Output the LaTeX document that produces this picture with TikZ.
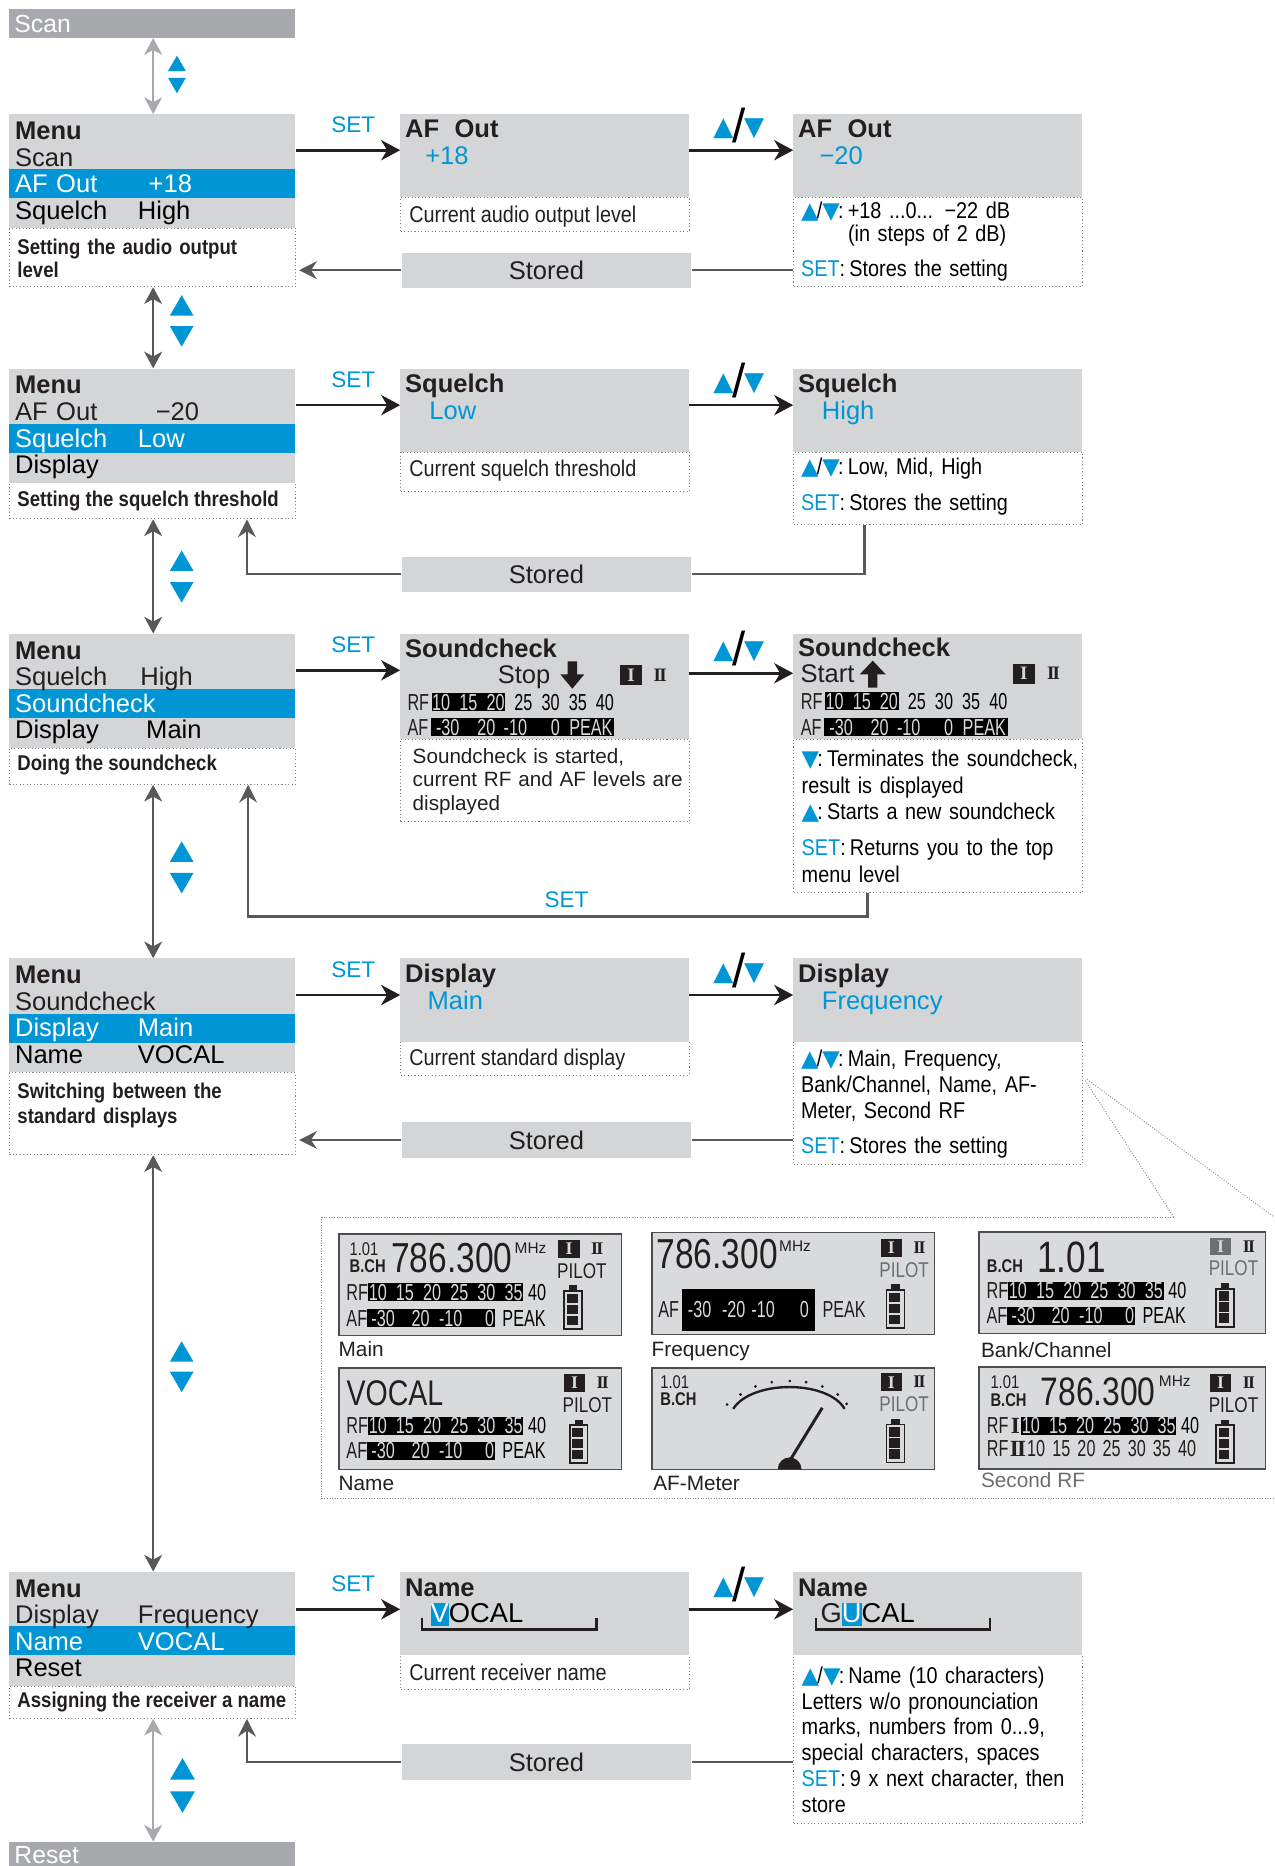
\documentclass[tikz,border=0pt]{standalone}
\usepackage{fontspec}
\usetikzlibrary{arrows.meta,shapes.geometric}
\setmainfont{Liberation Sans}
\newfontfamily\cond[FakeStretch=0.87]{Liberation Sans}
\newfontfamily\lcd[FakeStretch=0.7]{Liberation Sans}
\newfontfamily\lcdb[FakeStretch=0.8]{Liberation Sans}
\newfontfamily\numfont{Liberation Serif}
\newfontfamily\dv{DejaVu Sans}
\definecolor{boxgray}{HTML}{D4D5D7}
\definecolor{scangray}{HTML}{A7A9AC}
\definecolor{selblue}{HTML}{0096D6}
\definecolor{linegray}{HTML}{58595B}
\definecolor{inkblack}{HTML}{231F20}
\definecolor{lcdgray}{HTML}{D9DADC}
\definecolor{lcdline}{HTML}{4D4D4F}
\definecolor{dimgray}{HTML}{6D6E71}
\newcommand\menufont{\fontsize{21.5}{22.4}\selectfont}
\newcommand\headfont{\bfseries\fontsize{21.5}{22.4}\selectfont}
\newcommand\notefont{\cond\fontsize{19.2}{21.7}\selectfont}
\newcommand\descfont{\cond\bfseries\fontsize{18}{21.5}\selectfont}
\newcommand\lcdrow{\lcd\fontsize{19.5}{19.5}\selectfont}
\newcommand\mval[2]{\makebox[103.5pt][l]{#1}#2}
\newcommand\tup{{\dv\color{selblue}▲}\kern-1.5pt}
\newcommand\tdn{{\dv\color{selblue}▼}\kern-1.5pt}
\newcommand\setk{{\color{selblue}SET}}
\newcommand\cln{:\hspace{3.5pt}}
\newcommand\updown{{\dv\fontsize{22}{22}\selectfont\color{selblue}▲}\kern-1pt\raisebox{-6pt}{\fontsize{40}{40}\selectfont/}\kern-1pt{\dv\fontsize{22}{22}\selectfont\color{selblue}▼}}
\newcommand\gap{\hspace{7.7pt}}
\newcommand\lcdbar[1]{{\setlength{\fboxsep}{0.6pt}\colorbox{black}{\color{lcdgray}#1}}}
\newcommand\rfrow{RF\lcdbar{10\gap 15\gap 20\gap 25\gap 30\gap 35}\hspace{4pt}40}
\newcommand\afrow{AF\lcdbar{\hspace{3pt}-30\hspace{14pt}20\hspace{8pt}-10\hspace{19pt}0\hspace{0.5pt}}\hspace{6pt}PEAK}
\begin{document}
\color{inkblack}
\begin{tikzpicture}[x=1pt,y=-1pt,inner sep=0pt]
	\tikzstyle{graybox}=[fill=boxgray, anchor=north west, minimum width=243pt]
	\tikzstyle{menubox}=[fill=boxgray, anchor=north west, minimum width=241pt, minimum height=96pt]
	\tikzstyle{selbar}=[fill=selblue, anchor=north west, minimum width=241pt, minimum height=24.5pt]
	\tikzstyle{topbox}=[fill=scangray, anchor=north west, minimum width=241pt]
	\tikzstyle{notebox}=[draw=linegray!75, dotted, line width=0.9pt, anchor=north west, minimum width=243pt]
	\tikzstyle{storedbox}=[fill=boxgray, anchor=north west, minimum width=244pt, minimum height=29.7pt, font=\menufont]
	\tikzstyle{txt}=[anchor=base west, align=left]
	\tikzstyle{tri}=[regular polygon, regular polygon sides=3, fill=selblue, minimum size=23pt]
	\tikzstyle{setarrow}=[draw=inkblack, line width=2.2pt, -{Stealth[length=16pt,width=17pt,inset=5pt]}]
	\tikzstyle{backline}=[draw=linegray, line width=2pt]
	\tikzstyle{backarrow}=[draw=linegray, line width=2pt, -{Stealth[length=15pt,width=15pt,inset=5pt]}]
	\tikzstyle{menuarrow}=[draw=linegray, line width=2pt, {Stealth[length=14pt,width=15pt,inset=4pt]}-{Stealth[length=14pt,width=15pt,inset=4pt]}]
	\tikzstyle{setlabel}=[anchor=base, yshift=14.6pt, xshift=4.6pt, text=selblue, font=\fontsize{19}{19}\selectfont]
	\tikzstyle{looplabel}=[anchor=base, yshift=7.8pt, text=selblue, font=\fontsize{19}{19}\selectfont]
	\tikzstyle{keylabel}=[anchor=base, yshift=12.4pt, xshift=-2pt]
	\tikzstyle{lcdbox}=[fill=lcdgray, draw=lcdline, line width=1.2pt, anchor=north west, minimum width=238pt, minimum height=85.6pt]
	\tikzstyle{paneldots}=[draw=linegray!70, line width=0.8pt, dash pattern=on 0.8pt off 1.4pt]
	\useasboundingbox (0,0) rectangle (1073,1571.5);

	\node[topbox, minimum height=24.1pt] (scan) at (7.5,7.6) {};
	\node[txt, text=white, font=\fontsize{20.8}{22}\selectfont] (scantxt) at (12,27.5) {Scan};
	\node[topbox, minimum height=21pt] (reset) at (7.5,1551) {};
	\node[txt, text=white, font=\fontsize{20.8}{22}\selectfont] (resettxt) at (12,1569.5) {Reset};

	\node[notebox, minimum width=241pt, minimum height=49pt] (m1d) at (7.5,192) {};
	\node[menubox] (m1) at (7.5,96) {};
	\node[selbar] (m1sel) at (7.5,142.4) {};
	\node[txt, font=\menufont, text width=236pt] (m1txt) at (12.5,117.5) {\textbf{Menu}\\Scan\\\textcolor{white}{\mval{AF Out}{\hspace{9pt}+18}}\\\mval{Squelch}{High}};
	\node[txt, font=\descfont, text width=228pt] (m1dtxt) at (14.5,214) {Setting the audio output\\[-2pt]level};
	\node[notebox, minimum height=28.6pt] (a1d) at (337,165.7) {};
	\node[graybox, minimum height=69.7pt] (a1) at (337,96) {};
	\node[txt, font=\headfont] (a1t) at (341,116) {AF\hspace{13pt}Out};
	\node[txt, font=\menufont, text=selblue] (a1v) at (358,138.5) {+18};
	\node[txt, font=\notefont] (a1n) at (344.5,187.6) {Current audio output level};
	\node[notebox, minimum height=75.3pt] (b1d) at (668,165.7) {};
	\node[graybox, minimum height=69.7pt] (b1) at (668,96) {};
	\node[txt, font=\headfont] (b1t) at (672,116) {AF\hspace{13pt}Out};
	\node[txt, font=\menufont, text=selblue] (b1v) at (690,138.5) {−20};
	\node[txt, font=\notefont, text width=300pt] (b1n) at (674.5,184) {\tup/\tdn\cln+18 ...0... −22 dB\\[-2.1pt]\hspace*{39.5pt}(in steps of 2 dB)\\[7.7pt]\setk\cln Stores the setting};
	\node[storedbox] (st1) at (338,212.5) {Stored};
	\path ([yshift=-30.5pt]m1.north east) edge[setarrow] node[setlabel] {SET} ([yshift=-30.5pt]a1.north west);
	\path ([yshift=-30.5pt]a1.north east) edge[setarrow] node[keylabel] {\updown} ([yshift=-30.5pt]b1.north west);
	\path (st1.east -| b1d.west) edge[backline] (st1.east);
	\path (st1.west) edge[backarrow, shorten >=2.5pt] (st1.west -| m1d.east);
	\path ([xshift=121.5pt]scan.south west) edge[menuarrow, draw=scangray] ([xshift=121.5pt]m1.north west);
	\node[tri, minimum size=17.3pt, anchor=south] (u0) at (149,60) {};
	\node[tri, minimum size=17.3pt, shape border rotate=180, anchor=north] (d0) at (149,65.4) {};

	\node[notebox, minimum width=241pt, minimum height=30.3pt] (m2d) at (7.5,406.2) {};
	\node[menubox] (m2) at (7.5,310.2) {};
	\node[selbar] (m2sel) at (7.5,356.6) {};
	\node[txt, font=\menufont, text width=236pt] (m2txt) at (12.5,331.7) {\textbf{Menu}\\\mval{AF Out}{\hspace{15pt}−20}\\\textcolor{white}{\mval{Squelch}{Low}}\\Display};
	\node[txt, font=\descfont] (m2dtxt) at (14.5,426.7) {Setting the squelch threshold};
	\node[notebox, minimum height=33.2pt] (a2d) at (337,380.4) {};
	\node[graybox, minimum height=70.2pt] (a2) at (337,310.2) {};
	\node[txt, font=\headfont] (a2t) at (341,330.5) {Squelch};
	\node[txt, font=\menufont, text=selblue] (a2v) at (361.5,353) {Low};
	\node[txt, font=\notefont] (a2n) at (344.5,401.5) {Current squelch threshold};
	\node[notebox, minimum height=61pt] (b2d) at (668,380.4) {};
	\node[graybox, minimum height=70.2pt] (b2) at (668,310.2) {};
	\node[txt, font=\headfont] (b2t) at (672,330.5) {Squelch};
	\node[txt, font=\menufont, text=selblue] (b2v) at (692,353) {High};
	\node[txt, font=\notefont, text width=300pt] (b2n) at (674.5,400) {\tup/\tdn\cln Low, Mid, High\\[8.3pt]\setk\cln Stores the setting};
	\node[storedbox] (st2) at (338,468.5) {Stored};
	\path ([yshift=-31pt]m2.north east) edge[setarrow] node[setlabel] {SET} ([yshift=-31pt]a2.north west);
	\path ([yshift=-31pt]a2.north east) edge[setarrow] node[keylabel] {\updown} ([yshift=-31pt]b2.north west);
	\draw[backline] ([xshift=60pt]b2d.south west) |- (st2.east);
	\draw[backarrow] (st2.west) -| ([xshift=200.5pt]m2d.south west);
	\path ([xshift=121.5pt]m1d.south west) edge[menuarrow] ([xshift=121.5pt]m2.north west);
	\node[tri, anchor=south] (u1) at (153,266) {};
	\node[tri, shape border rotate=180, anchor=north] (d1) at (153,274.5) {};

	\node[notebox, minimum width=241pt, minimum height=30.5pt] (m3d) at (7.5,629.5) {};
	\node[menubox] (m3) at (7.5,533.5) {};
	\node[selbar] (m3sel) at (7.5,579.9) {};
	\node[txt, font=\menufont, text width=236pt] (m3txt) at (12.5,555) {\textbf{Menu}\\\mval{Squelch}{\hspace{2pt}High}\\\textcolor{white}{Soundcheck}\\\mval{Display}{\hspace{7pt}Main}};
	\node[txt, font=\descfont] (m3dtxt) at (14.5,649) {Doing the soundcheck};
	\node[notebox, minimum height=69.3pt] (a3d) at (337,622.3) {};
	\node[graybox, minimum height=88.8pt] (a3) at (337,533.5) {};
	\node[txt, font=\headfont] (a3t) at (341,554) {Soundcheck};
	\node[txt, font=\menufont] (a3stop) at (419,575.6) {Stop};
	\fill[inkblack] (478,557) -- (486,557) -- (486,568) -- (492,568) -- (482,580) -- (472,568) -- (478,568) -- cycle;
	\node[fill=inkblack, anchor=north west, minimum width=19pt, minimum height=17pt, text=boxgray, font=\numfont\bfseries\fontsize{16}{16}\selectfont] (a3one) at (521.8,560) {I};
	\node[font=\numfont\bfseries\fontsize{16}{16}\selectfont] (a3two) at (556,568.5) {I\kern-1.5pt I};
	\node[txt, font=\lcdrow] (a3rf) at (343,598) {RF\hspace{2pt}\lcdbar{10\gap 15\gap 20}\gap 25\gap 30\gap 35\gap 40};
	\node[txt, font=\lcdrow] (a3af) at (343,619) {AF\hspace{2pt}\lcdbar{\hspace{4pt}-30\hspace{15pt}20\hspace{7pt}-10\hspace{20pt}0\hspace{8pt}PEAK\hspace{1pt}}};
	\node[txt, font=\fontsize{17.4}{19.7}\selectfont, text width=300pt] (a3n) at (347.4,643) {Soundcheck is started,\\current RF and AF levels are\\displayed};
	\node[notebox, minimum height=128.7pt] (b3d) at (668,622.3) {};
	\node[graybox, minimum height=88.8pt] (b3) at (668,533.5) {};
	\node[txt, font=\headfont] (b3t) at (672,553) {Soundcheck};
	\node[txt, font=\menufont] (b3start) at (674,575) {Start};
	\fill[inkblack] (731,579) -- (739,579) -- (739,568) -- (746,568) -- (735,556.4) -- (724,568) -- (731,568) -- cycle;
	\node[fill=inkblack, anchor=north west, minimum width=19pt, minimum height=17pt, text=boxgray, font=\numfont\bfseries\fontsize{16}{16}\selectfont] (b3one) at (852.6,558.6) {I};
	\node[font=\numfont\bfseries\fontsize{16}{16}\selectfont] (b3two) at (887.3,567) {I\kern-1.5pt I};
	\node[txt, font=\lcdrow] (b3rf) at (674.3,597.4) {RF\hspace{2pt}\lcdbar{10\gap 15\gap 20}\gap 25\gap 30\gap 35\gap 40};
	\node[txt, font=\lcdrow] (b3af) at (674.3,619) {AF\hspace{2pt}\lcdbar{\hspace{4pt}-30\hspace{15pt}20\hspace{7pt}-10\hspace{20pt}0\hspace{8pt}PEAK\hspace{1pt}}};
	\node[txt, font=\cond\fontsize{19.2}{22.3}\selectfont, text width=300pt] (b3n) at (675,645.7) {\tdn\cln Terminates the soundcheck,\\result is displayed\\\tup\cln Starts a new soundcheck\\[8pt]\setk\cln Returns you to the top\\menu level};
	\path ([yshift=-31pt]m3.north east) edge[setarrow] node[setlabel] {SET} ([yshift=-31pt]a3.north west);
	\path ([yshift=-33.5pt]a3.north east) edge[setarrow] node[keylabel] {\updown} ([yshift=-33.5pt]b3.north west);
	\draw[backarrow] ([xshift=62.5pt]b3d.south west) -- ++(0,20) -| node[pos=0.243, looplabel] {SET} ([xshift=201.5pt]m3d.south west);
	\path ([xshift=121.5pt]m2d.south west) edge[menuarrow] ([xshift=121.5pt]m3.north west);
	\node[tri, anchor=south] (u2) at (153,481) {};
	\node[tri, shape border rotate=180, anchor=north] (d2) at (153,490) {};

	\node[notebox, minimum width=241pt, minimum height=69pt] (m4d) at (7.5,903) {};
	\node[menubox] (m4) at (7.5,807) {};
	\node[selbar] (m4sel) at (7.5,853.4) {};
	\node[txt, font=\menufont, text width=236pt] (m4txt) at (12.5,828.5) {\textbf{Menu}\\Soundcheck\\\textcolor{white}{\mval{Display}{Main}}\\\mval{Name}{VOCAL}};
	\node[txt, font=\descfont, text width=228pt] (m4dtxt) at (14.5,925) {Switching between the\\[-0.5pt]standard displays};
	\node[notebox, minimum height=28pt] (a4d) at (337,877) {};
	\node[graybox, minimum height=70pt] (a4) at (337,807) {};
	\node[txt, font=\headfont] (a4t) at (341,827.5) {Display};
	\node[txt, font=\menufont, text=selblue] (a4v) at (360,850) {Main};
	\node[txt, font=\notefont] (a4n) at (344.5,897) {Current standard display};
	\node[notebox, minimum height=103pt] (b4d) at (668,877) {};
	\node[graybox, minimum height=70pt] (b4) at (668,807) {};
	\node[txt, font=\headfont] (b4t) at (672,827.5) {Display};
	\node[txt, font=\menufont, text=selblue] (b4v) at (692,850) {Frequency};
	\node[txt, font=\cond\fontsize{19.2}{22}\selectfont, text width=300pt] (b4n) at (674.5,898) {\tup/\tdn\cln Main, Frequency,\\Bank/Channel, Name, AF-\\Meter, Second RF\\[7.6pt]\setk\cln Stores the setting};
	\node[storedbox] (st4) at (338,945) {Stored};
	\path ([yshift=-31pt]m4.north east) edge[setarrow] node[setlabel] {SET} ([yshift=-31pt]a4.north west);
	\path ([yshift=-31pt]a4.north east) edge[setarrow] node[keylabel] {\updown} ([yshift=-31pt]b4.north west);
	\path (st4.east -| b4d.west) edge[backline] (st4.east);
	\path (st4.west) edge[backarrow, shorten >=2.5pt] (st4.west -| m4d.east);
	\path ([xshift=121.5pt]m3d.south west) edge[menuarrow] ([xshift=121.5pt]m4.north west);
	\node[tri, anchor=south] (u3) at (153,726) {};
	\node[tri, shape border rotate=180, anchor=north] (d3) at (153,735) {};

	\draw[paneldots] (988.5,1025) -- (271,1025) -- (271,1262.3) -- (1073,1262.3);
	\draw[paneldots] ([shift={(2,33)}]b4d.north east) -- (988.5,1025);
	\draw[paneldots] ([shift={(3.5,32)}]b4d.north east) -- (1073,1025);
	\node[lcdbox] (dmain) at (285,1038.7) {};
	\node[lcdbox] (dfreq) at (548.6,1037.6) {};
	\node[lcdbox, minimum width=241pt] (dbank) at (824,1036.8) {};
	\node[lcdbox] (dname) at (285,1151.4) {};
	\node[lcdbox] (dmeter) at (548.6,1151.4) {};
	\node[lcdbox, minimum width=241pt] (dsecond) at (824,1150.8) {};
	\node[txt, font=\fontsize{17.5}{17.5}\selectfont] (lmain) at (285,1142.5) {Main};
	\node[txt, font=\fontsize{17.5}{17.5}\selectfont] (lfreq) at (548.6,1142.5) {Frequency};
	\node[txt, font=\fontsize{17.5}{17.5}\selectfont] (lbank) at (826,1143.4) {Bank/Channel};
	\node[txt, font=\fontsize{17.5}{17.5}\selectfont] (lname) at (285,1255.3) {Name};
	\node[txt, font=\fontsize{17.5}{17.5}\selectfont] (lmeter) at (550,1255.3) {AF-Meter};
	\node[txt, font=\fontsize{17.5}{17.5}\selectfont, text=dimgray] (lsecond) at (826,1253) {Second RF};

	\node[txt, font=\lcdb\fontsize{15.5}{15.5}\selectfont] (mn1) at (294.3,1057) {1.01};
	\node[txt, font=\lcdb\bfseries\fontsize{15.5}{15.5}\selectfont] (mn2) at (294.3,1071.3) {B.CH};
	\node[txt, font=\lcdb\fontsize{35.3}{35.3}\selectfont] (mn3) at (329.3,1071.3) {786.300};
	\node[txt, font=\fontsize{13}{13}\selectfont] (mn4) at (433.3,1056) {MHz};
	\node[txt, font=\lcdrow] (mn5) at (291.6,1095) {\rfrow};
	\node[txt, font=\lcdrow] (mn6) at (291.6,1117) {\afrow};

	\node[txt, font=\lcdb\fontsize{35.3}{35.3}\selectfont] (fq1) at (552.7,1068.5) {786.300};
	\node[txt, font=\fontsize{13}{13}\selectfont] (fq2) at (656,1054) {MHz};
	\node[txt, font=\lcdrow] (fq3) at (554.3,1109.8) {AF};
	\node[fill=black, anchor=north west, minimum width=112.4pt, minimum height=35pt, text=lcdgray, font=\lcdrow] (fq4) at (574,1085.4) {\makebox[110pt][l]{\hspace{4pt}-30\hspace{9pt}-20\hspace{5pt}-10\hspace{21pt}0}};
	\node[txt, font=\lcdrow] (fq5) at (692.5,1109.8) {PEAK};

	\node[txt, font=\lcdb\bfseries\fontsize{15.5}{15.5}\selectfont] (bk1) at (831,1071.3) {B.CH};
	\node[txt, font=\lcdb\fontsize{37}{37}\selectfont] (bk2) at (873.3,1071.3) {1.01};
	\node[txt, font=\lcdrow] (bk3) at (830.7,1093.7) {\rfrow};
	\node[txt, font=\lcdrow] (bk4) at (830.7,1114.8) {\afrow};

	\node[txt, font=\lcdb\fontsize{30}{30}\selectfont] (nm1) at (291.7,1183.7) {VOCAL};
	\node[txt, font=\lcdrow] (nm2) at (291.6,1207.5) {\rfrow};
	\node[txt, font=\lcdrow] (nm3) at (291.6,1228.5) {\afrow};

	\node[txt, font=\lcdb\fontsize{15.5}{15.5}\selectfont] (mt1) at (556,1169.6) {1.01};
	\node[txt, font=\lcdb\bfseries\fontsize{15.5}{15.5}\selectfont] (mt2) at (556,1183.7) {B.CH};
	\draw[line width=2pt] (617.5,1186.5) .. controls (633,1162) and (697,1162) .. (711.3,1186.5);
	\foreach \px/\py in {612.4/1182.8, 623.6/1174.4, 636.2/1167.6, 649.9/1164, 665.2/1163, 678.9/1164, 692.5/1167.6, 705.5/1174.4, 713/1182.3}
		\fill (\px,\py) circle[radius=1.3pt];
	\draw[line width=2.5pt] (663.5,1232.8) -- (692.5,1185.6);
	\fill (655,1237.4) arc[start angle=180, end angle=0, radius=10pt] -- cycle;

	\node[txt, font=\lcdb\fontsize{15.5}{15.5}\selectfont] (sc1) at (834,1169.6) {1.01};
	\node[txt, font=\lcdb\bfseries\fontsize{15.5}{15.5}\selectfont] (sc2) at (834,1184.5) {B.CH};
	\node[txt, font=\lcdb\fontsize{33.5}{33.5}\selectfont] (sc3) at (876.2,1183.6) {786.300};
	\node[txt, font=\fontsize{13}{13}\selectfont] (sc4) at (975.8,1168) {MHz};
	\node[txt, font=\lcdrow] (sc5) at (831,1207.5) {RF\hspace{2pt}{\numfont\bfseries I}\hspace{1pt}\lcdbar{10\gap 15\gap 20\gap 25\gap 30\gap 35}\hspace{4pt}40};
	\node[txt, font=\lcdrow] (sc6) at (831,1226.6) {RF\hspace{1pt}{\numfont\bfseries I\kern-1.5pt I}\hspace{1pt}10\hspace{6pt}15\hspace{6pt}20\hspace{6pt}25\hspace{6pt}30\hspace{6pt}35\hspace{6pt}40};

	\foreach \x/\y/\ic/\pc [count=\k] in {470/1044/inkblack/inkblack, 741.4/1043/inkblack/dimgray, 1018.8/1042/dimgray/dimgray, 474.6/1157/inkblack/inkblack, 741.4/1156.4/inkblack/dimgray, 1018.8/1157/inkblack/inkblack}{
		\node[fill=\ic, anchor=north west, minimum width=18pt, minimum height=15pt, text=lcdgray, font=\numfont\bfseries\fontsize{15}{15}\selectfont] (ione\k) at (\x,\y) {I};
		\node[font=\numfont\bfseries\fontsize{15}{15}\selectfont] (itwo\k) at (\x+33,\y+7.5) {I\kern-1.5pt I};
		\node[txt, text=\pc, font=\lcdb\fontsize{18}{18}\selectfont] (pilot\k) at (\x-1,\y+32.5) {PILOT};
		\node[draw=inkblack, line width=1.5pt, anchor=north west, minimum width=15pt, minimum height=32pt] (bat\k) at (\x+4.5,\y+42.5) {};
		\fill (bat\k.north) ++(-3.5,-4) rectangle ++(7,4);
		\foreach \s in {0,1,2}
			\fill ([shift={(3,3+\s*9.3)}]bat\k.north west) rectangle ++(9,8);
	}

	\node[notebox, minimum width=241pt, minimum height=27.1pt] (m5d) at (7.5,1419.5) {};
	\node[menubox] (m5) at (7.5,1323.5) {};
	\node[selbar] (m5sel) at (7.5,1369.4) {};
	\node[txt, font=\menufont, text width=236pt] (m5txt) at (12.5,1345) {\textbf{Menu}\\\mval{Display}{Frequency}\\\textcolor{white}{\mval{Name}{VOCAL}}\\Reset};
	\node[txt, font=\descfont] (m5dtxt) at (14.5,1438.2) {Assigning the receiver a name};
	\node[notebox, minimum height=29.2pt] (a5d) at (337,1393.3) {};
	\node[graybox, minimum height=69.8pt] (a5) at (337,1323.5) {};
	\node[txt, font=\headfont] (a5t) at (341,1344.7) {Name};
	\node[txt, font=\fontsize{23}{23}\selectfont] (a5v) at (362.5,1366.6) {{\setlength{\fboxsep}{0pt}\colorbox{selblue}{\rule[-3pt]{0pt}{20pt}\color{white}V}}OCAL};
	\draw[line width=2pt] (355.5,1363) |- (502.4,1372.2) -- (502.4,1363);
	\node[txt, font=\notefont] (a5n) at (344.5,1415.4) {Current receiver name};
	\node[notebox, minimum height=141.7pt] (b5d) at (668,1393.3) {};
	\node[graybox, minimum height=69.8pt] (b5) at (668,1323.5) {};
	\node[txt, font=\headfont] (b5t) at (672,1344.7) {Name};
	\node[txt, font=\fontsize{23}{23}\selectfont] (b5v) at (691,1366.6) {G{\setlength{\fboxsep}{0pt}\colorbox{selblue}{\rule[-3pt]{0pt}{20pt}\color{white}U}}CAL};
	\draw[line width=2pt] (687,1363) |- (833.8,1372.2) -- (833.8,1363);
	\node[txt, font=\notefont, text width=300pt] (b5n) at (675,1417.7) {\tup/\tdn\cln Name (10 characters)\\Letters w/o pronounciation\\marks, numbers from 0...9,\\special characters, spaces\\\setk\cln 9 x next character, then\\store};
	\node[storedbox] (st5) at (338,1468.8) {Stored};
	\path ([yshift=-31.8pt]m5.north east) edge[setarrow] node[setlabel] {SET} ([yshift=-31.8pt]a5.north west);
	\path ([yshift=-31.8pt]a5.north east) edge[setarrow] node[keylabel] {\updown} ([yshift=-31.8pt]b5.north west);
	\path (st5.east -| b5d.west) edge[backline] (st5.east);
	\draw[backarrow] (st5.west) -| ([xshift=200.5pt]m5d.south west);
	\path ([xshift=121.5pt]m4d.south west) edge[menuarrow] ([xshift=121.5pt]m5.north west);
	\node[tri, anchor=south] (u4) at (153,1147) {};
	\node[tri, shape border rotate=180, anchor=north] (d4) at (153,1155) {};
	\node[tri, minimum size=24.2pt, anchor=south] (u5) at (153.7,1499) {};
	\node[tri, minimum size=24.2pt, shape border rotate=180, anchor=north] (d5) at (153.7,1508.4) {};
	\path ([xshift=121.5pt]m5d.south west) edge[menuarrow, draw=scangray] ([xshift=121.5pt]reset.north west);
\end{tikzpicture}
\end{document}
